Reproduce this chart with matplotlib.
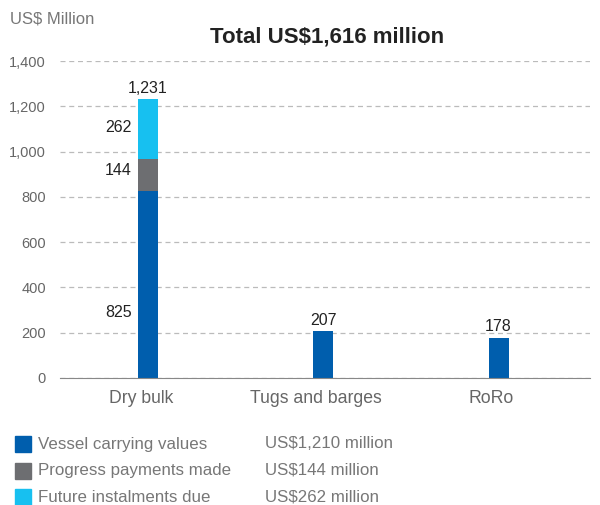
import numpy as np
import matplotlib
matplotlib.use('Agg')
from matplotlib import pyplot as plt
from matplotlib.patches import Rectangle
from matplotlib.transforms import ScaledTranslation

plt.rcParams['font.family'] = ['Liberation Sans', 'DejaVu Sans']

categories = ['Dry bulk', 'Tugs and barges', 'RoRo']
carrying = [825, 207, 178]
progress = [144, 0, 0]
future = [262, 0, 0]
totals = [1231, 207, 178]

legend_names = ['Vessel carrying values', 'Progress payments made', 'Future instalments due']
legend_values = ['US$1,210 million', 'US$144 million', 'US$262 million']
colors = ['#005EAD', '#6D6E71', '#17C0F0']

fig = plt.figure(figsize=(6, 5.05), dpi=100)
ax = fig.add_axes([0.1, 0.2515, 0.883, 0.6275])

x = np.arange(len(categories))
w = 0.114
carrying = np.array(carrying)
progress = np.array(progress)
future = np.array(future)
ax.bar(x, carrying, w, color=colors[0], zorder=3)
ax.bar(x, progress, w, bottom=carrying, color=colors[1], zorder=3)
ax.bar(x, future, w, bottom=carrying + progress, color=colors[2], zorder=3)

ax.set_xlim(-0.5, 2.52)
ax.set_ylim(0, 1400)
ax.set_yticks(np.arange(0, 1401, 200))
ax.set_yticklabels(['{:,}'.format(v) for v in range(0, 1401, 200)])
ax.yaxis.grid(True, linestyle=(0, (4, 3)), color='#bbbbbb', linewidth=0.9, zorder=0)
ax.set_xticks(x)
ax.set_xticklabels(categories)
for s in ['top', 'right', 'left']:
    ax.spines[s].set_visible(False)
ax.spines['bottom'].set_color('#888888')
ax.spines['bottom'].set_zorder(4)
ax.tick_params(axis='both', length=0, labelsize=10.5, colors='#666666')
ax.tick_params(axis='x', pad=9, labelsize=12.7)
ax.tick_params(axis='y', pad=10)
# category labels sit a little left of the bars
shift = ScaledTranslation(-7 / 100, 0, fig.dpi_scale_trans)
for lbl in ax.get_xticklabels():
    lbl.set_transform(lbl.get_transform() + shift)

# data labels
lab = dict(fontsize=11.5, color='#222222')
for i, t in enumerate(totals):
    ax.text(x[i], t + 15, '{:,}'.format(t), ha='center', va='bottom', **lab)
ax.text(x[0] - 0.09, 290, '{:,}'.format(carrying[0]), ha='right', va='center', **lab)
ax.text(x[0] - 0.09, carrying[0] + progress[0] / 2 + 20, '{:,}'.format(progress[0]), ha='right', va='center', **lab)
ax.text(x[0] - 0.09, carrying[0] + progress[0] + future[0] / 2 + 5, '{:,}'.format(future[0]), ha='right', va='center', **lab)

fig.text(0.017, 0.962, 'US$ Million', fontsize=12, color='#777777', va='center')
fig.text(0.545, 0.927, 'Total US$1,616 million', fontsize=16, fontweight='bold', color='#222222', ha='center', va='center')

# legend
for i in range(3):
    yc = 1 - (444 + 26.5 * i) / 505
    fig.patches.append(Rectangle((15 / 600, yc - 8 / 505), 16 / 600, 16 / 505,
                                 transform=fig.transFigure, color=colors[i], figure=fig))
    fig.text(38 / 600, yc, legend_names[i], fontsize=12.2, color='#777777', va='center')
    fig.text(265 / 600, yc, legend_values[i], fontsize=12.2, color='#777777', va='center')

fig.savefig('out.png', dpi=100)
